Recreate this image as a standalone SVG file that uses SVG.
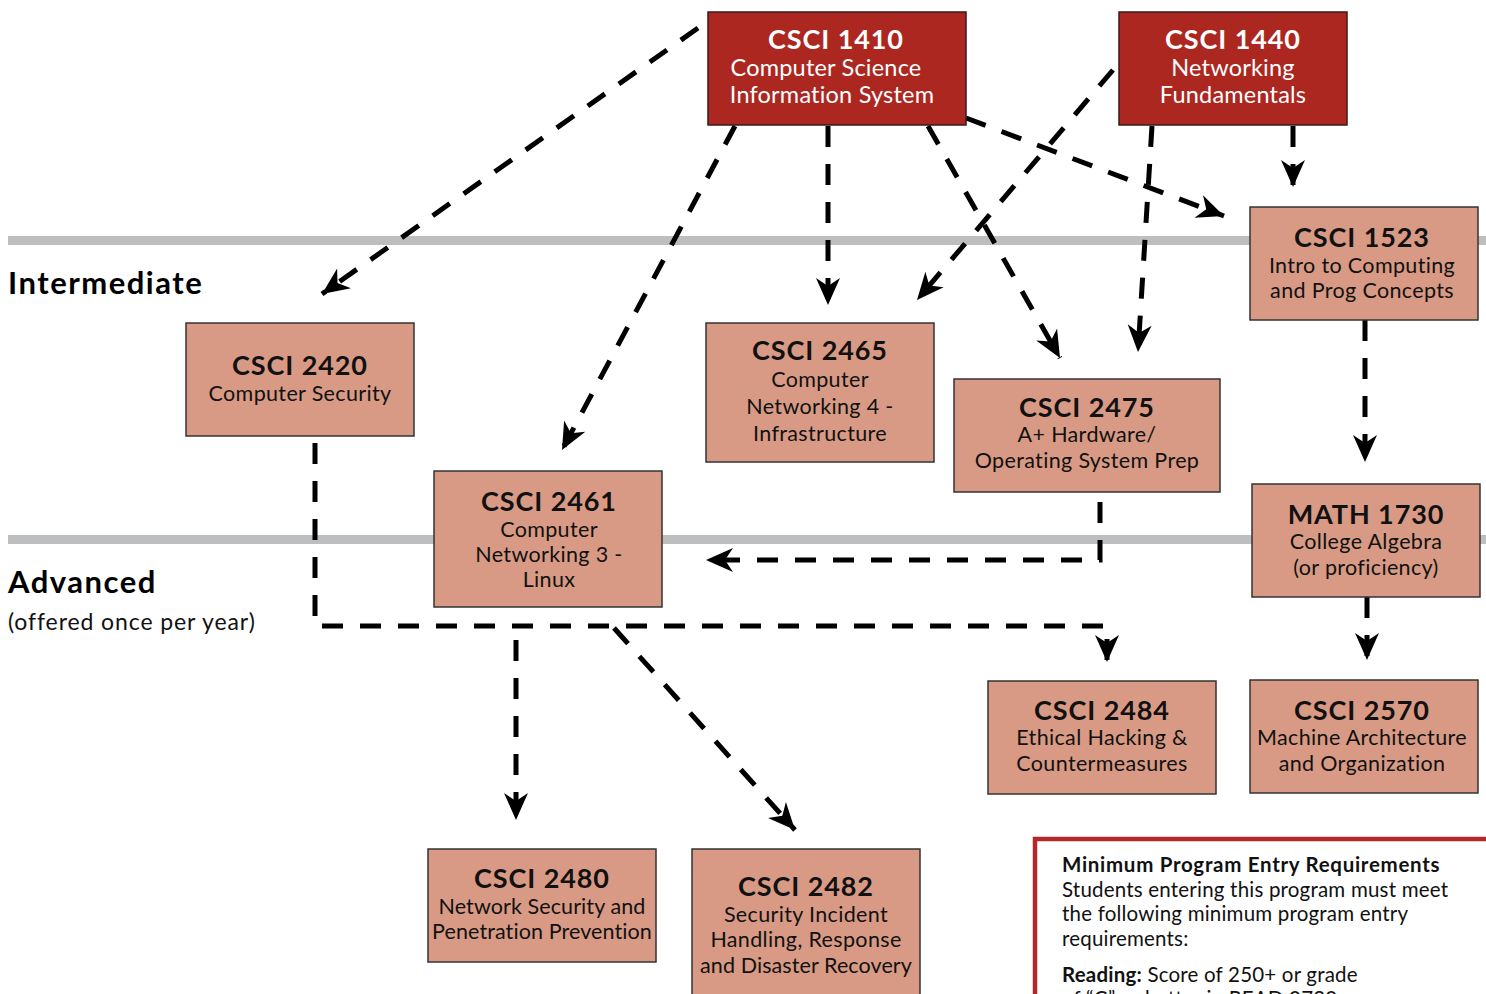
<svg xmlns="http://www.w3.org/2000/svg" width="1486" height="994" viewBox="0 0 1486 994">
<style>
  text { font-family: "Lato", "Noto Sans", "Liberation Sans", sans-serif; }
  .band { fill: #bdbec0; }
  .red rect { fill: #ad2721; stroke: #3a1a18; stroke-width: 1.5; }
  .tan rect { fill: #d89a84; stroke: #333; stroke-width: 1.5; }
  .t { font-size: 27px; font-weight: 700; text-anchor: middle; letter-spacing: 0.9px; }
  .s { font-size: 21.5px; text-anchor: middle; letter-spacing: 0.35px; }
  .red .s { font-size: 23.5px; letter-spacing: 0.2px; }
  .red text { fill: #fff; }
  .tan text { fill: #111; }
  .conn path { fill: none; stroke: #000; stroke-width: 5; stroke-dasharray: 21 17; marker-end: url(#ah); }
  .lvl { font-size: 31px; font-weight: 700; fill: #000; letter-spacing: 1.5px; }
  .req { font-size: 20.5px; fill: #111; letter-spacing: 0.2px; }
  .reqb { font-weight: 700; letter-spacing: 0.7px; }
</style>
<defs>
  <marker id="ah" viewBox="-28 -14 30 28" refX="0" refY="0" markerWidth="30" markerHeight="28" markerUnits="userSpaceOnUse" orient="auto">
    <path d="M0,0 L-27,-12 L-19,0 L-27,12 Z" fill="#000"/>
  </marker>
</defs>
<rect width="1486" height="994" fill="#fff"/>
<rect class="band" x="8" y="236" width="1478" height="9"/>
<rect class="band" x="8" y="535" width="1478" height="9"/>
<text class="lvl" x="8" y="294">Intermediate</text>
<text class="lvl" x="8" y="593">Advanced</text>
<text x="8" y="630" style="font-size:23px;fill:#111;letter-spacing:0.9px">(offered once per year)</text>

<g id="connectors" class="conn">
  <path d="M698,28 L322,294"/>
  <path d="M735,126 L562,450"/>
  <path d="M828,126 L828,305"/>
  <path d="M928,126 L1060,358"/>
  <path d="M966,118 L1224,216"/>
  <path d="M1113,70 L917,300"/>
  <path d="M1152,126 L1138,352"/>
  <path d="M1293,126 L1293,187"/>
  <path d="M1365,320 L1365,462"/>
  <path d="M1367,597 L1367,660"/>
  <path d="M1100,502 L1100,560 L706,560"/>
  <path d="M315,443 L315,626 L1107,626 L1107,662"/>
  <path d="M516,640 L516,820"/>
  <path d="M614,628 L795,830"/>
</g>

<g id="csci1410" class="red">
  <rect x="708" y="12" width="258" height="113"/>
  <text class="t" x="836" y="49">CSCI 1410</text>
  <text class="s" x="826" y="76">Computer Science</text>
  <text class="s" x="832" y="103">Information System</text>
</g>
<g id="csci1440" class="red">
  <rect x="1119" y="12" width="228" height="113"/>
  <text class="t" x="1233" y="49">CSCI 1440</text>
  <text class="s" x="1233" y="76">Networking</text>
  <text class="s" x="1233" y="103">Fundamentals</text>
</g>
<g id="csci1523" class="tan">
  <rect x="1250" y="207" width="228" height="113"/>
  <text class="t" x="1362" y="247">CSCI 1523</text>
  <text class="s" x="1362" y="273">Intro to Computing</text>
  <text class="s" x="1362" y="298">and Prog Concepts</text>
</g>
<g id="csci2420" class="tan">
  <rect x="186" y="323" width="228" height="113"/>
  <text class="t" x="300" y="375">CSCI 2420</text>
  <text class="s" x="300" y="401">Computer Security</text>
</g>
<g id="csci2465" class="tan">
  <rect x="706" y="323" width="228" height="139"/>
  <text class="t" x="820" y="360">CSCI 2465</text>
  <text class="s" x="820" y="387">Computer</text>
  <text class="s" x="820" y="414">Networking 4 -</text>
  <text class="s" x="820" y="441">Infrastructure</text>
</g>
<g id="csci2475" class="tan">
  <rect x="954" y="379" width="266" height="113"/>
  <text class="t" x="1087" y="417">CSCI 2475</text>
  <text class="s" x="1087" y="442">A+ Hardware/</text>
  <text class="s" x="1087" y="468">Operating System Prep</text>
</g>
<g id="csci2461" class="tan">
  <rect x="434" y="471" width="228" height="136"/>
  <text class="t" x="549" y="511">CSCI 2461</text>
  <text class="s" x="549" y="537">Computer</text>
  <text class="s" x="549" y="562">Networking 3 -</text>
  <text class="s" x="549" y="587">Linux</text>
</g>
<g id="math1730" class="tan">
  <rect x="1252" y="484" width="228" height="113"/>
  <text class="t" x="1366" y="524">MATH 1730</text>
  <text class="s" x="1366" y="549">College Algebra</text>
  <text class="s" x="1366" y="575">(or proficiency)</text>
</g>
<g id="csci2484" class="tan">
  <rect x="988" y="681" width="228" height="113"/>
  <text class="t" x="1102" y="720">CSCI 2484</text>
  <text class="s" x="1102" y="745">Ethical Hacking &amp;</text>
  <text class="s" x="1102" y="771">Countermeasures</text>
</g>
<g id="csci2570" class="tan">
  <rect x="1250" y="680" width="228" height="113"/>
  <text class="t" x="1362" y="720">CSCI 2570</text>
  <text class="s" x="1362" y="745">Machine Architecture</text>
  <text class="s" x="1362" y="771">and Organization</text>
</g>
<g id="csci2480" class="tan">
  <rect x="428" y="849" width="228" height="113"/>
  <text class="t" x="542" y="888">CSCI 2480</text>
  <text class="s" x="542" y="914" style="letter-spacing:0.1px">Network Security and</text>
  <text class="s" x="542" y="939" style="letter-spacing:0.1px">Penetration Prevention</text>
</g>
<g id="csci2482" class="tan">
  <rect x="692" y="849" width="228" height="160"/>
  <text class="t" x="806" y="896">CSCI 2482</text>
  <text class="s" x="806" y="922">Security Incident</text>
  <text class="s" x="806" y="947">Handling, Response</text>
  <text class="s" x="806" y="973" style="letter-spacing:0.1px">and Disaster Recovery</text>
</g>

<g id="requirements">
  <path d="M1035,1000 L1035,839 L1490,839" fill="none" stroke="#b5282a" stroke-width="4.5"/>
  <text class="req reqb" x="1062" y="872">Minimum Program Entry Requirements</text>
  <text class="req" x="1062" y="897">Students entering this program must meet</text>
  <text class="req" x="1062" y="921">the following minimum program entry</text>
  <text class="req" x="1062" y="946">requirements:</text>
  <text class="req" x="1062" y="982"><tspan style="font-weight:700">Reading:</tspan> Score of 250+ or grade</text>
  <text class="req" x="1062" y="1006">of “C” or better in READ 0720</text>
</g>
</svg>
